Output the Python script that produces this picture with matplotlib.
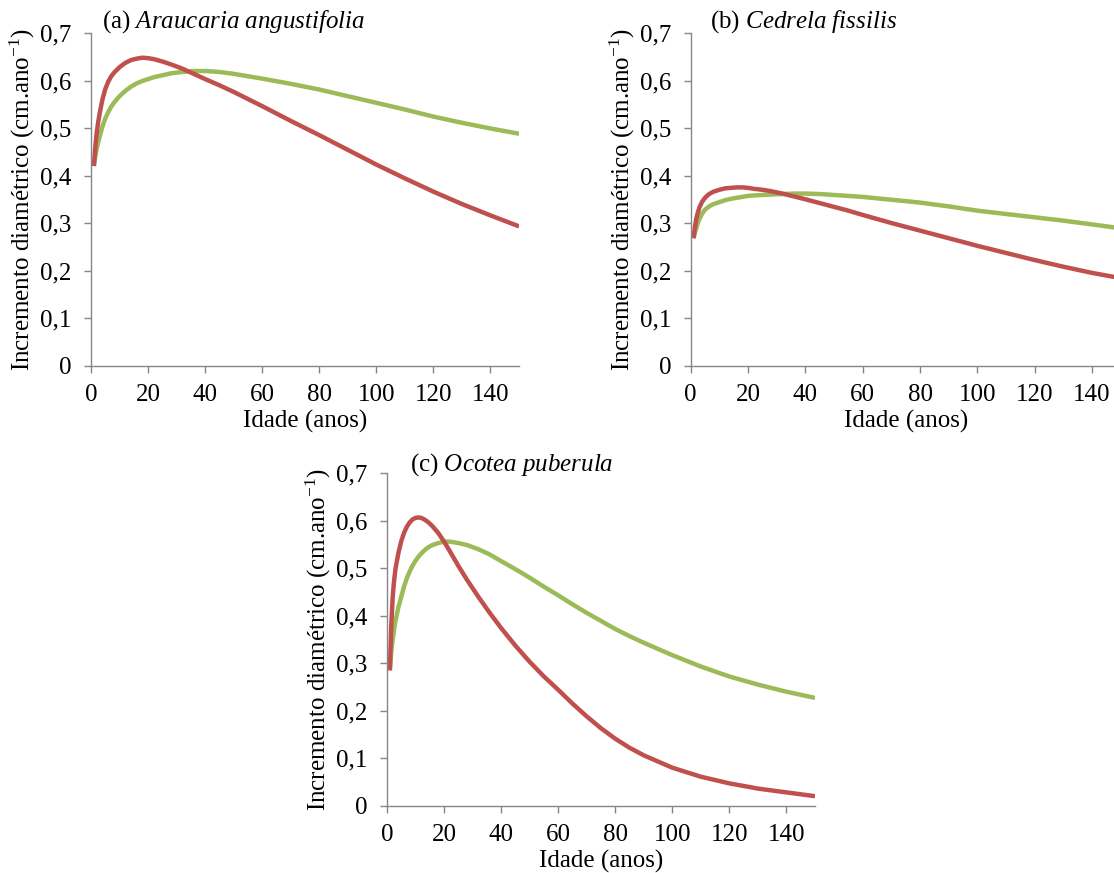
import matplotlib
matplotlib.use("Agg")
import matplotlib.pyplot as plt

# Fonte parecida com Times New Roman
plt.rcParams["font.family"] = ["Liberation Serif", "DejaVu Serif"]
plt.rcParams["mathtext.fontset"] = "custom"
plt.rcParams["mathtext.rm"] = "Liberation Serif"
plt.rcParams["mathtext.it"] = "Liberation Serif:italic"

# Dados
idade_ab = [1, 1.5, 2, 2.5, 3, 4, 5, 6, 7, 8, 10, 12, 14, 16, 18, 20, 22, 25,
            28, 32, 36, 40, 45, 50, 55, 60, 70, 80, 90, 100, 110, 120, 130,
            140, 150]
vermelho_a = [0.42, 0.46, 0.49, 0.512, 0.53, 0.56, 0.582, 0.597, 0.608, 0.616,
              0.628, 0.637, 0.643, 0.646, 0.648, 0.647, 0.645, 0.640, 0.634,
              0.625, 0.614, 0.603, 0.590, 0.576, 0.561, 0.546, 0.515, 0.485,
              0.454, 0.423, 0.394, 0.366, 0.340, 0.316, 0.293]
verde_a = [0.42, 0.44, 0.456, 0.47, 0.481, 0.503, 0.52, 0.533, 0.544, 0.553,
           0.567, 0.578, 0.587, 0.594, 0.599, 0.603, 0.607, 0.611, 0.615,
           0.618, 0.620, 0.620, 0.618, 0.614, 0.609, 0.604, 0.593, 0.581,
           0.567, 0.553, 0.539, 0.524, 0.511, 0.499, 0.488]

vermelho_b = [0.268, 0.293, 0.31, 0.322, 0.332, 0.345, 0.353, 0.359, 0.363,
              0.366, 0.370, 0.373, 0.374, 0.375, 0.375, 0.374, 0.372, 0.370,
              0.367, 0.362, 0.356, 0.350, 0.342, 0.334, 0.326, 0.317, 0.300,
              0.284, 0.268, 0.252, 0.237, 0.222, 0.208, 0.195, 0.184]
verde_b = [0.268, 0.28, 0.29, 0.30, 0.308, 0.32, 0.328, 0.333, 0.337, 0.340,
           0.344, 0.348, 0.351, 0.353, 0.355, 0.357, 0.358, 0.359, 0.360,
           0.361, 0.362, 0.362, 0.361, 0.359, 0.357, 0.355, 0.349, 0.343,
           0.335, 0.326, 0.319, 0.312, 0.305, 0.297, 0.289]

idade_c = [1, 1.5, 2, 2.5, 3, 4, 5, 6, 7, 8, 9, 10, 11, 12, 13, 14, 15, 16, 18,
           20, 22, 25, 28, 32, 36, 40, 45, 50, 55, 60, 65, 70, 75, 80, 85, 90,
           100, 110, 120, 130, 140, 150]
vermelho_c = [0.285, 0.38, 0.44, 0.475, 0.50, 0.532, 0.557, 0.575, 0.588, 0.597,
              0.603, 0.606, 0.607, 0.606, 0.603, 0.599, 0.594, 0.588, 0.574,
              0.556, 0.536, 0.505, 0.476, 0.440, 0.406, 0.374, 0.337, 0.303,
              0.272, 0.244, 0.215, 0.188, 0.163, 0.141, 0.122, 0.106, 0.080,
              0.061, 0.047, 0.036, 0.028, 0.020]
verde_c = [0.285, 0.325, 0.35, 0.372, 0.39, 0.418, 0.44, 0.462, 0.48, 0.494,
           0.506, 0.516, 0.524, 0.531, 0.537, 0.542, 0.546, 0.549, 0.553,
           0.556, 0.556, 0.553, 0.549, 0.540, 0.529, 0.515, 0.498, 0.480,
           0.461, 0.443, 0.424, 0.406, 0.389, 0.372, 0.357, 0.343, 0.317,
           0.293, 0.272, 0.255, 0.240, 0.227]

titulos = ["(a) $\\it{Araucaria\\ angustifolia}$",
           "(b) $\\it{Cedrela\\ fissilis}$",
           "(c) $\\it{Ocotea\\ puberula}$"]

xticks = [0, 20, 40, 60, 80, 100, 120, 140]
yticks = [0, 0.1, 0.2, 0.3, 0.4, 0.5, 0.6, 0.7]
ytick_labels = ["0", "0,1", "0,2", "0,3", "0,4", "0,5", "0,6", "0,7"]

cor_vermelho = "#C0504D"
cor_verde = "#9BBB59"
cinza = "#868686"
fs = 18

fig = plt.figure(figsize=(11.14, 8.73), dpi=100)

# posicoes dos 3 paineis [esq, baixo, larg, alt] e posicao do titulo
paineis = [
    ([0.0817, 0.5813, 0.3842, 0.3809], 0.026, 1.033),
    ([0.6200, 0.5813, 0.3860, 0.3809], 0.044, 1.033),
    ([0.3474, 0.0771, 0.3842, 0.3808], 0.054, 1.025),
]
series = [
    (idade_ab, vermelho_a, verde_a),
    (idade_ab, vermelho_b, verde_b),
    (idade_c, vermelho_c, verde_c),
]

for (pos, tx, ty), (x, red, green), titulo in zip(paineis, series, titulos):
    ax = fig.add_axes(pos)
    ax.plot(x, green, color=cor_verde, lw=3.2, solid_capstyle="butt")
    ax.plot(x, red, color=cor_vermelho, lw=3.2, solid_capstyle="butt")

    ax.set_xlim(0, 150)
    ax.set_ylim(0, 0.7)
    ax.set_xticks(xticks)
    ax.set_yticks(yticks)
    ax.set_yticklabels(ytick_labels)

    for s in ["top", "right"]:
        ax.spines[s].set_visible(False)
    for s in ["left", "bottom"]:
        ax.spines[s].set_color(cinza)
        ax.spines[s].set_linewidth(1)
    ax.tick_params(direction="out", length=5, width=1, color=cinza,
                   labelsize=fs)
    ax.tick_params(axis="x", pad=8)
    ax.tick_params(axis="y", pad=9)

    ax.set_xlabel("Idade (anos)", fontsize=fs, labelpad=3)
    ax.set_ylabel("Incremento diamétrico (cm.ano$^{-1}$)", fontsize=fs,
                  labelpad=2)
    ax.text(tx, ty, titulo, transform=ax.transAxes, fontsize=fs,
            ha="left", va="center")

fig.savefig("out.png", dpi=100)
